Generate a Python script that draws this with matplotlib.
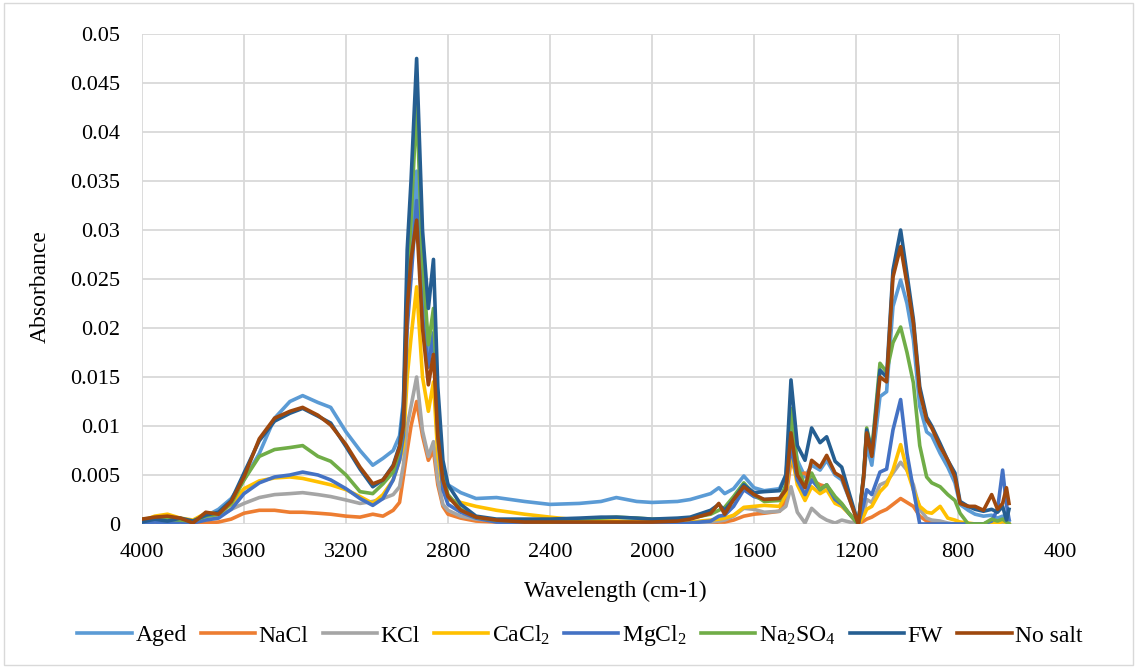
import matplotlib.pyplot as plt
import numpy as np

plt.rcParams['font.family'] = ['Liberation Serif', 'DejaVu Serif']
plt.rcParams['mathtext.fontset'] = 'custom'
plt.rcParams['mathtext.rm'] = 'Liberation Serif'
plt.rcParams['mathtext.it'] = 'Liberation Serif:italic'

wn = [4000, 3950, 3900, 3850, 3800, 3750, 3700, 3650, 3600, 3540,
      3480, 3420, 3370, 3310, 3260, 3200, 3145, 3095, 3055, 3015,
      2990, 2975, 2960, 2945, 2923, 2900, 2877, 2857, 2840, 2820,
      2800, 2750, 2690, 2610, 2500, 2400, 2285, 2200, 2140, 2060,
      2000, 1900, 1850, 1770, 1738, 1715, 1680, 1640, 1600, 1560,
      1500, 1475, 1455, 1430, 1400, 1374, 1341, 1315, 1282, 1256,
      1225, 1191, 1170, 1158, 1138, 1106, 1080, 1055, 1025, 1000,
      975, 950, 923, 903, 870, 840, 812, 792, 760, 733,
      700, 668, 645, 625, 610, 600]

# absorbance x 1000
aged = [0.2, 0.4, 0.3, 0.5, 0.2, 0.8, 1.5, 2.6, 4.5, 7.2,
        10.8, 12.5, 13.1, 12.4, 11.9, 9.4, 7.5, 6.0, 6.7, 7.5,
        9.0, 12.5, 22, 28, 36, 24, 17, 19.5, 10, 5.5,
        4.0, 3.2, 2.6, 2.7, 2.3, 2.0, 2.1, 2.3, 2.7, 2.3,
        2.2, 2.3, 2.5, 3.1, 3.7, 3.1, 3.6, 4.9, 3.7, 3.4,
        3.6, 5.0, 10.5, 6.5, 4.8, 6.0, 5.5, 6.5, 5.0, 4.5,
        2.5, 0.2, 4.5, 8.0, 6.0, 13.0, 13.5, 22.2, 24.9, 22.5,
        18.8, 12.0, 9.4, 9.0, 7.2, 5.8, 4.2, 2.0, 1.4, 1.0,
        0.8, 0.9, 0.6, 0.8, 0.5, 0.3]
nacl = [0.1, 0.2, 0.1, 0.0, 0.0, 0.1, 0.2, 0.5, 1.1, 1.4,
        1.4, 1.2, 1.2, 1.1, 1.0, 0.8, 0.7, 1.0, 0.8, 1.4,
        2.2, 4.8, 7.5, 10, 12.5, 9, 6.5, 7.5, 4, 1.8,
        1.0, 0.6, 0.3, 0.2, 0.1, 0.1, 0.1, 0.1, 0.1, 0.1,
        0.1, 0.0, 0.1, 0.1, 0.2, 0.2, 0.4, 0.8, 1.0, 1.1,
        1.3, 2.5, 6.5, 5.0, 5.2, 4.5, 4.0, 3.8, 2.7, 2.0,
        1.0, 0.0, 0.3, 0.5, 0.7, 1.2, 1.5, 2.0, 2.6, 2.2,
        1.8, 0.8, 0.3, 0.2, 0.1, 0.0, 0.0, 0.0, 0.0, 0.0,
        0.0, 0.2, 0.0, 0.3, 0.0, 0.0]
kcl = [0.2, 0.3, 0.2, 0.3, 0.3, 0.5, 0.8, 1.5, 2.1, 2.7,
       3.0, 3.1, 3.2, 3.0, 2.8, 2.45, 2.1, 2.3, 2.6, 3.0,
       3.8, 6, 10, 12, 15, 9.5, 6.9, 8.4, 4.5, 2.0,
       1.4, 0.8, 0.5, 0.3, 0.2, 0.1, 0.1, 0.1, 0.1, 0.1,
       0.1, 0.1, 0.1, 0.2, 0.3, 0.4, 0.8, 1.6, 1.5, 1.2,
       1.3, 1.8, 3.8, 1.2, 0.1, 1.6, 0.8, 0.4, 0.1, 0.4,
       0.2, 0.0, 1.0, 2.5, 2.2, 4.0, 4.3, 5.2, 6.3, 5.5,
       4.0, 1.5, 0.6, 0.4, 0.3, 0.1, 0.0, 0.0, 0.0, 0.0,
       0.0, 0.2, 0.0, 0.2, 0.0, 0.0]
cacl2 = [0.3, 0.8, 1.0, 0.6, 0.4, 1.1, 1.1, 2.0, 3.6, 4.4,
         4.7, 4.8, 4.65, 4.3, 4.0, 3.5, 2.8, 2.1, 3.0, 4.5,
         6.5, 8, 15, 19, 24.2, 15, 11.5, 14.5, 7, 3.5,
         2.5, 2.2, 1.8, 1.4, 1.0, 0.7, 0.4, 0.3, 0.3, 0.2,
         0.2, 0.2, 0.2, 0.4, 0.5, 0.6, 0.9, 1.7, 1.8, 1.9,
         1.8, 3.0, 7.5, 4.0, 2.4, 3.8, 3.1, 3.5, 2.1, 1.8,
         1.0, 0.0, 0.8, 1.5, 1.8, 3.3, 4.0, 5.5, 8.1, 5.5,
         3.5, 1.8, 1.2, 1.1, 1.8, 0.6, 0.4, 0.2, 0.1, 0.0,
         0.0, 0.1, 0.0, 0.3, 0.1, 0.0]
mgcl2 = [0.0, 0.2, 0.1, 0.2, 0.1, 0.4, 0.6, 1.5, 3.1, 4.2,
         4.8, 5.0, 5.3, 5.0, 4.5, 3.6, 2.6, 1.9, 2.6, 4.5,
         6.5, 9, 20, 25, 33, 21, 16, 19.5, 9, 3.5,
         2.0, 1.2, 0.6, 0.2, 0.1, 0.0, 0.0, 0.0, 0.0, 0.0,
         0.0, 0.0, 0.1, 0.3, 0.8, 0.9, 1.8, 3.5, 2.8, 2.5,
         2.6, 3.5, 8.0, 4.5, 3.0, 4.5, 3.5, 4.0, 2.5, 2.0,
         1.0, 0.0, 2.0, 3.5, 3.0, 5.3, 5.6, 9.6, 12.7, 7.2,
         3.5, 0.0, 0.0, 0.0, 0.0, 0.0, 0.0, 0.0, 0.0, 0.0,
         0.0, 0.3, 1.5, 5.5, 2.0, 0.5]
na2so4 = [0.5, 0.6, 0.5, 0.4, 0.3, 0.8, 1.0, 2.1, 4.5, 6.9,
          7.6, 7.8, 8.0, 6.9, 6.4, 5.0, 3.3, 3.1, 4.1, 5.3,
          7.5, 10, 25, 31, 43, 27, 18.3, 22, 11, 5,
          3.0, 1.5, 0.7, 0.4, 0.3, 0.2, 0.5, 0.6, 0.7, 0.6,
          0.5, 0.5, 0.6, 1.0, 1.4, 1.7, 2.8, 4.2, 3.0, 2.3,
          2.4, 4.0, 11.8, 6.0, 3.8, 5.2, 3.5, 4.0, 2.8, 2.1,
          1.0, 0.0, 5.0, 9.8, 7.5, 16.4, 15.5, 18.5, 20.1, 17.5,
          14.4, 8.0, 4.8, 4.2, 3.8, 3.0, 2.4, 1.1, 0.0, 0.0,
          0.0, 0.5, 0.3, 0.5, 0.2, 0.0]
fw = [0.2, 0.5, 0.3, 0.6, 0.3, 0.9, 1.2, 2.4, 5.2, 8.5,
      10.5, 11.3, 11.8, 11.0, 10.3, 7.9, 5.6, 3.8, 4.5, 6.0,
      8.0, 12, 28, 35, 47.5, 30, 22, 27, 14, 6.5,
      4.0, 2.0, 0.8, 0.5, 0.5, 0.5, 0.6, 0.7, 0.7, 0.6,
      0.5, 0.6, 0.7, 1.4, 2.0, 1.4, 2.5, 4.0, 3.2, 3.3,
      3.4, 5.0, 14.7, 8.0, 6.5, 9.8, 8.3, 8.9, 6.4, 5.8,
      3.0, 0.0, 5.0, 9.6, 7.2, 15.7, 15.0, 25.9, 30.0, 25.5,
      20.9, 14.0, 10.9, 10.0, 8.2, 6.5, 5.2, 2.3, 1.8, 1.5,
      1.3, 1.5, 1.2, 1.8, 0.4, 1.5]
no_salt = [0.5, 0.7, 0.8, 0.6, 0.1, 1.2, 1.0, 2.3, 4.8, 8.7,
           10.8, 11.5, 11.9, 11.1, 10.1, 8.1, 5.8, 4.1, 4.5, 5.9,
           7.8, 10, 22, 27, 31, 20, 14.2, 17.3, 9, 4.5,
           2.8, 1.4, 0.7, 0.4, 0.2, 0.2, 0.2, 0.2, 0.2, 0.2,
           0.2, 0.3, 0.5, 1.1, 2.1, 1.0, 2.5, 3.8, 3.0, 2.5,
           2.6, 3.5, 9.3, 5.0, 3.7, 6.5, 5.8, 7.0, 5.2, 4.8,
           2.5, 0.0, 4.8, 9.3, 6.9, 15.0, 14.5, 25.2, 28.3, 24.5,
           20.5, 13.5, 10.6, 9.8, 7.9, 6.5, 4.8, 2.1, 1.8, 1.8,
           1.4, 3.0, 1.5, 2.1, 3.7, 2.1]

labels = ['Aged', 'NaCl', 'KCl', r'CaCl$_2$', r'MgCl$_2$',
          r'Na$_2$SO$_4$', 'FW', 'No salt']
colors = ['#5B9BD5', '#ED7D31', '#A5A5A5', '#FFC000', '#4472C4',
          '#70AD47', '#255E91', '#9E480E']
series = [aged, nacl, kcl, cacl2, mgcl2, na2so4, fw, no_salt]

fig = plt.figure(figsize=(11.37, 6.68), dpi=100)
ax = fig.add_axes([142 / 1137, 1 - 524 / 668, 918 / 1137, 490 / 668])

for s, lab, c in zip(series, labels, colors):
    ax.plot(wn, np.array(s) / 1000, color=c, lw=2.6, label=lab,
            solid_joinstyle='round')

ax.set_xlim(4000, 400)
ax.set_ylim(0, 0.05)
ax.set_xticks(np.arange(4000, 399, -400))
yt = np.arange(0, 0.0501, 0.005)
ax.set_yticks(yt)
ax.set_yticklabels([('%.3f' % v).rstrip('0').rstrip('.') for v in yt])
ax.grid(True, color='#d9d9d9', lw=1.3)
ax.set_axisbelow(True)
for sp in ax.spines.values():
    sp.set_visible(False)
ax.tick_params(length=0, labelsize=16)
ax.tick_params(axis='x', pad=14)
ax.tick_params(axis='y', pad=16)

ax.set_xlabel('Wavelength (cm-1)', fontsize=17)
ax.xaxis.set_label_coords(0.516, -0.115)
ax.set_ylabel('Absorbance', fontsize=17)
ax.yaxis.set_label_coords(-0.099, 0.484)

fig.legend(loc='center', bbox_to_anchor=(580 / 1137, 1 - 636 / 668),
           ncol=8, frameon=False, fontsize=17, handlelength=2.3,
           handletextpad=0.15, columnspacing=0.6)

fig.patches.append(plt.Rectangle((4 / 1137, 3 / 668), 1 - 8 / 1137, 1 - 6 / 668,
                                 transform=fig.transFigure, fill=False,
                                 edgecolor='#d9d9d9', lw=1))

fig.savefig('out.png', dpi=100)
